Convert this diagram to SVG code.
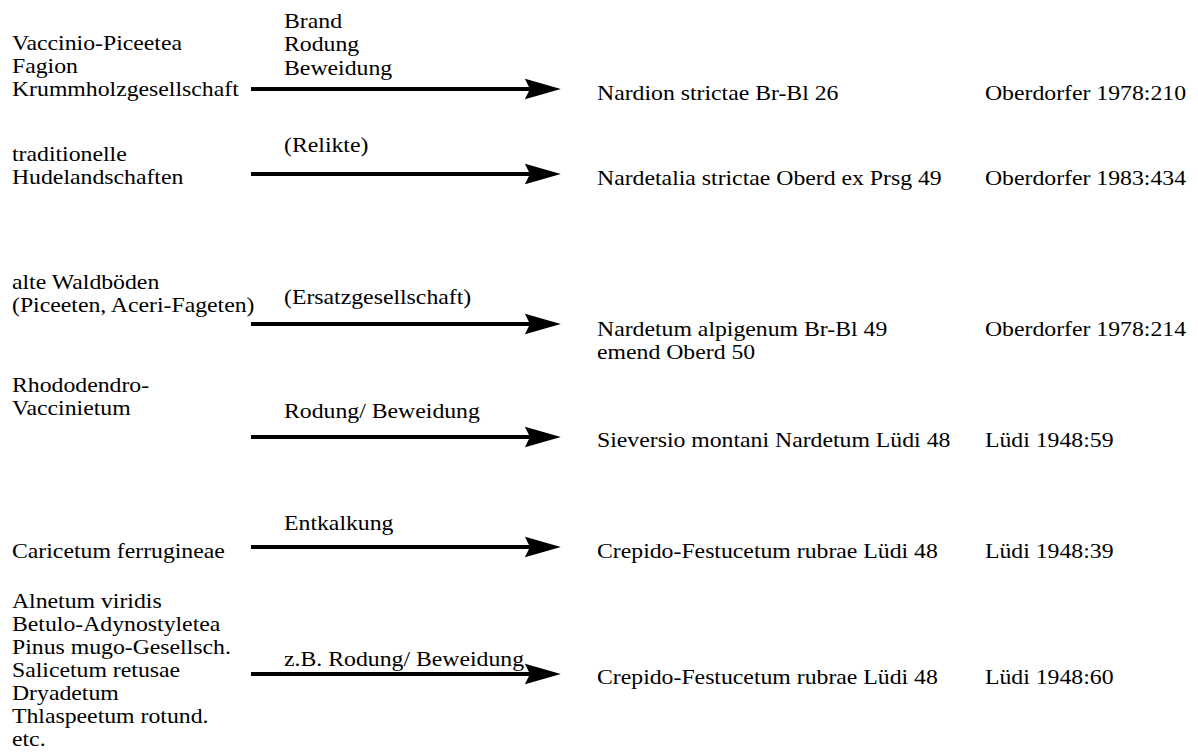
<svg xmlns="http://www.w3.org/2000/svg" width="1198" height="756" viewBox="0 0 1198 756">
  <style>
    .t text { font-family: 'Liberation Serif', 'Times New Roman', serif; font-size: 22px; fill: #000; }
    .conn line { stroke: #000; stroke-width: 4; marker-end: url(#head); }
  </style>
  <defs>
    <marker id="head" markerUnits="userSpaceOnUse" markerWidth="36" markerHeight="22" viewBox="0 0 35 20" refX="5" refY="10" orient="auto">
      <path d="M0,0 L35,10 L0,20 L5,10 Z" fill="#000"/>
    </marker>
  </defs>
  <rect width="1198" height="756" fill="#fff"/>

  <!-- succession arrows -->
  <g id="connectors" class="conn">
    <line x1="251" y1="89" x2="530" y2="89"/>
    <line x1="251" y1="174" x2="530" y2="174"/>
    <line x1="251" y1="324" x2="530" y2="324"/>
    <line x1="251" y1="437" x2="530" y2="437"/>
    <line x1="251" y1="547" x2="530" y2="547"/>
    <line x1="251" y1="674" x2="530" y2="674"/>
  </g>

  <!-- all text is set slightly widened -->
  <g class="t" transform="scale(1.08,1)">
    <g id="labels">
      <text x="263" y="28">Brand</text>
      <text x="263" y="51.5">Rodung</text>
      <text x="263" y="75">Beweidung</text>
      <text x="263" y="152">(Relikte)</text>
      <text x="263" y="304">(Ersatzgesellschaft)</text>
      <text x="263" y="418">Rodung/ Beweidung</text>
      <text x="263" y="530">Entkalkung</text>
      <text x="263" y="666">z.B. Rodung/ Beweidung</text>
    </g>

    <g id="src1">
      <text x="11.1" y="50">Vaccinio-Piceetea</text>
      <text x="11.1" y="73">Fagion</text>
      <text x="11.1" y="96">Krummholzgesellschaft</text>
    </g>
    <g id="src2">
      <text x="11.1" y="161">traditionelle</text>
      <text x="11.1" y="184">Hudelandschaften</text>
    </g>
    <g id="src3">
      <text x="11.1" y="289">alte Waldböden</text>
      <text x="11.1" y="312">(Piceeten, Aceri-Fageten)</text>
    </g>
    <g id="src4">
      <text x="11.1" y="392">Rhododendro-</text>
      <text x="11.1" y="415">Vaccinietum</text>
    </g>
    <g id="src5">
      <text x="11.1" y="558">Caricetum ferrugineae</text>
    </g>
    <g id="src6">
      <text x="11.1" y="608">Alnetum viridis</text>
      <text x="11.1" y="631">Betulo-Adynostyletea</text>
      <text x="11.1" y="654">Pinus mugo-Gesellsch.</text>
      <text x="11.1" y="677">Salicetum retusae</text>
      <text x="11.1" y="700">Dryadetum</text>
      <text x="11.1" y="723">Thlaspeetum rotund.</text>
      <text x="11.1" y="746">etc.</text>
    </g>

    <g id="tgt1">
      <text x="552.8" y="100">Nardion strictae Br-Bl 26</text>
      <text x="912" y="100">Oberdorfer 1978:210</text>
    </g>
    <g id="tgt2">
      <text x="552.8" y="185">Nardetalia strictae Oberd ex Prsg 49</text>
      <text x="912" y="185">Oberdorfer 1983:434</text>
    </g>
    <g id="tgt3">
      <text x="552.8" y="336">Nardetum alpigenum Br-Bl 49</text>
      <text x="552.8" y="359">emend Oberd 50</text>
      <text x="912" y="336">Oberdorfer 1978:214</text>
    </g>
    <g id="tgt4">
      <text x="552.8" y="447">Sieversio montani Nardetum Lüdi 48</text>
      <text x="912" y="447">Lüdi 1948:59</text>
    </g>
    <g id="tgt5">
      <text x="552.8" y="558">Crepido-Festucetum rubrae Lüdi 48</text>
      <text x="912" y="558">Lüdi 1948:39</text>
    </g>
    <g id="tgt6">
      <text x="552.8" y="684">Crepido-Festucetum rubrae Lüdi 48</text>
      <text x="912" y="684">Lüdi 1948:60</text>
    </g>
  </g>
</svg>
